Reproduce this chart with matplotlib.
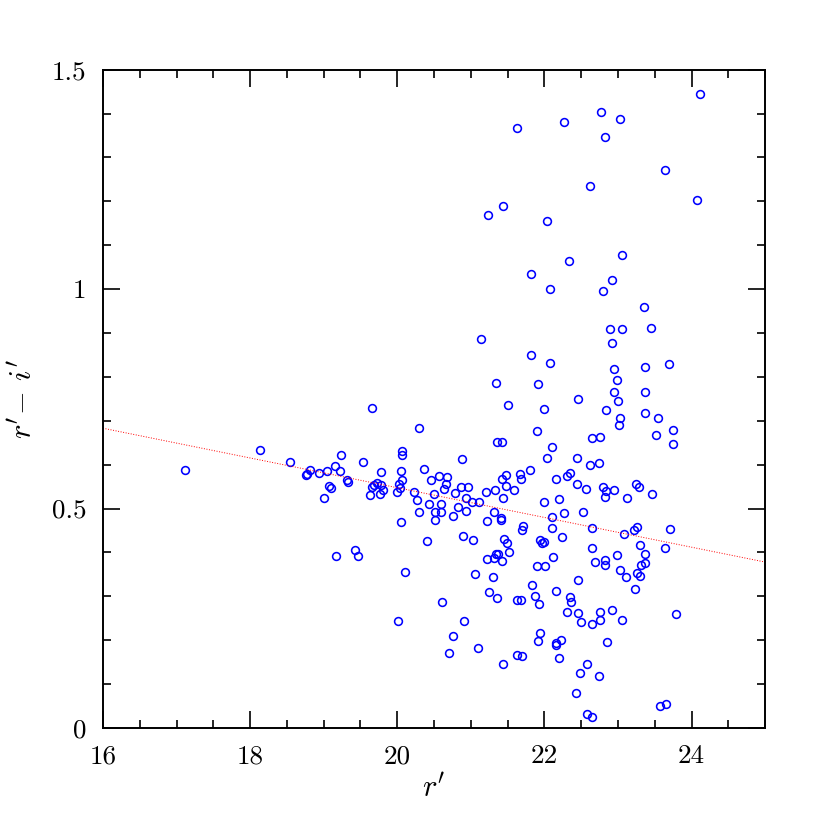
import numpy as np
import matplotlib.pyplot as plt
from matplotlib.ticker import MultipleLocator, FuncFormatter

plt.rcParams['font.family'] = ['cmr10', 'DejaVu Serif']
plt.rcParams['mathtext.fontset'] = 'cm'
plt.rcParams['axes.formatter.use_mathtext'] = True

# Datos: magnitud r' y color r'-i'
r_mag = [
    17.11, 18.14, 18.54, 18.76, 18.77, 18.82, 18.94, 19.04, 19.16, 19.24, 19.22, 19.31, 19.33, 19.07, 19.10, 19.01, 19.17,
    19.65, 20.30, 21.50, 21.99, 21.90, 21.36, 21.42,
    19.54, 19.78, 19.68, 19.72, 19.65, 19.78, 19.81, 19.63, 19.77,
    20.06, 20.06, 20.05, 20.02, 20.06, 20.04, 19.99, 20.05,
    19.43, 19.46, 20.10, 20.01,
    20.36, 20.23, 20.27, 20.30, 20.41, 20.46, 20.56, 20.50, 20.43, 20.51, 20.59, 20.51, 20.59, 20.68, 20.66, 20.63,
    20.79, 20.88, 20.87, 20.96, 20.93, 20.83, 20.93, 20.76, 21.02, 21.11, 20.89, 21.03, 20.61, 21.05, 20.91, 20.76,
    20.70, 21.09,
    21.21, 21.33, 21.48, 21.42, 21.48, 21.58, 21.43, 21.67, 21.68, 21.81, 21.31, 21.22, 21.41, 21.41, 21.71, 21.70,
    21.45, 21.49,
    21.22, 21.31, 21.34, 21.37, 21.42, 21.52, 21.30, 21.24, 21.36, 21.63, 21.68, 21.83, 21.87, 21.93, 21.90, 22.01,
    21.99, 21.94, 21.96, 21.99, 21.94, 21.91, 21.44, 21.62, 21.70,
    22.45, 23.00, 22.84, 23.37,
    23.54, 23.02, 23.01, 23.75, 23.52, 23.75, 22.65, 22.75, 22.10, 22.03, 22.44, 22.62, 22.74, 22.34, 22.31, 22.15,
    22.44, 22.56, 22.80, 22.84, 22.82, 22.95, 23.24, 23.29, 23.12, 23.46, 22.20, 22.27, 22.52, 22.10, 22.10, 22.64,
    22.24, 23.08, 23.22, 23.26, 23.71, 23.64, 23.30, 22.64, 22.11, 22.98, 23.36, 22.82, 22.82, 22.68, 23.02, 23.31,
    23.37, 23.11, 23.26, 23.30, 22.46, 23.23, 22.15, 22.35, 22.36, 22.31, 22.45, 22.50, 22.64, 22.76, 22.75, 22.92,
    23.05, 23.79, 22.16, 22.16, 22.23, 22.20, 22.85, 22.58, 22.48, 22.74, 22.43, 22.58, 22.65, 23.57, 23.65,
    24.11, 22.77, 23.03, 22.27, 21.63, 22.82, 23.64, 22.62, 24.07, 21.43, 21.23, 22.04, 23.06, 22.33, 21.82, 22.92,
    22.08, 22.79, 23.35, 22.89, 23.05, 23.45, 21.14, 22.92, 21.82, 22.08, 23.69, 23.37, 22.94, 22.98, 21.34, 21.91,
    22.94, 23.36,
]
ri_color = [
    0.587, 0.634, 0.607, 0.577, 0.579, 0.587, 0.582, 0.586, 0.597, 0.623, 0.586, 0.565, 0.561, 0.551, 0.546, 0.523, 0.391,
    0.729, 0.684, 0.737, 0.726, 0.677, 0.652, 0.652,
    0.605, 0.583, 0.553, 0.559, 0.549, 0.553, 0.542, 0.531, 0.532,
    0.631, 0.622, 0.586, 0.556, 0.564, 0.546, 0.537, 0.469,
    0.406, 0.391, 0.355, 0.243,
    0.590, 0.537, 0.519, 0.491, 0.426, 0.565, 0.573, 0.533, 0.511, 0.493, 0.493, 0.474, 0.511, 0.571, 0.556, 0.544,
    0.536, 0.613, 0.550, 0.550, 0.523, 0.503, 0.494, 0.483, 0.514, 0.514, 0.437, 0.428, 0.288, 0.351, 0.244, 0.209,
    0.171, 0.181,
    0.537, 0.543, 0.577, 0.567, 0.552, 0.542, 0.525, 0.578, 0.568, 0.588, 0.492, 0.472, 0.478, 0.473, 0.461, 0.452,
    0.431, 0.422,
    0.385, 0.388, 0.397, 0.397, 0.381, 0.400, 0.345, 0.309, 0.295, 0.292, 0.292, 0.325, 0.300, 0.283, 0.370, 0.368,
    0.423, 0.429, 0.422, 0.514, 0.216, 0.199, 0.145, 0.166, 0.163,
    0.749, 0.745, 0.724, 0.718,
    0.706, 0.707, 0.691, 0.678, 0.668, 0.648, 0.661, 0.663, 0.640, 0.614, 0.614, 0.600, 0.604, 0.581, 0.574, 0.567,
    0.556, 0.544, 0.550, 0.539, 0.527, 0.543, 0.556, 0.550, 0.524, 0.534, 0.521, 0.489, 0.492, 0.481, 0.455, 0.456,
    0.434, 0.441, 0.452, 0.457, 0.453, 0.411, 0.416, 0.409, 0.390, 0.393, 0.397, 0.383, 0.372, 0.377, 0.361, 0.371,
    0.375, 0.343, 0.352, 0.346, 0.336, 0.316, 0.313, 0.298, 0.288, 0.264, 0.263, 0.241, 0.237, 0.264, 0.247, 0.268,
    0.245, 0.259, 0.190, 0.194, 0.200, 0.159, 0.196, 0.145, 0.126, 0.118, 0.080, 0.032, 0.025, 0.050, 0.054,
    1.444, 1.403, 1.387, 1.381, 1.368, 1.347, 1.272, 1.234, 1.203, 1.190, 1.170, 1.156, 1.077, 1.064, 1.035, 1.020,
    1.000, 0.995, 0.960, 0.908, 0.909, 0.912, 0.887, 0.877, 0.849, 0.832, 0.829, 0.823, 0.817, 0.792, 0.785, 0.783,
    0.765, 0.766,
]

# Recta de tendencia (ordenada en r'=16 y pendiente)
fit_x0 = 16.0
fit_y0 = 0.683
fit_slope = -0.0339

fig = plt.figure(figsize=(8.3, 8.3), dpi=100)
ax = fig.add_axes([0.124, 0.123, 0.798, 0.793])

ax.plot(r_mag, ri_color, 'o', mfc='none', mec='blue', ms=5.6, mew=1.15, ls='none')

xl = np.array([16, 25])
ax.plot(xl, fit_y0 + fit_slope * (xl - fit_x0), color='red', ls=':', lw=0.7)

ax.set_xlim(16, 25)
ax.set_ylim(0, 1.5)
ax.xaxis.set_major_locator(MultipleLocator(2))
ax.xaxis.set_minor_locator(MultipleLocator(0.5))
ax.yaxis.set_major_locator(MultipleLocator(0.5))
ax.yaxis.set_minor_locator(MultipleLocator(0.1))
ax.yaxis.set_major_formatter(FuncFormatter(lambda v, p: '%g' % v))
ax.xaxis.set_major_formatter(FuncFormatter(lambda v, p: '%g' % v))

ax.tick_params(which='both', direction='in', top=True, right=True, width=1.2, labelsize=19.5, pad=12)
ax.tick_params(which='major', length=12)
ax.tick_params(which='minor', length=6)
for s in ax.spines.values():
    s.set_linewidth(1.4)

ax.set_xlabel(r"$r'$", fontsize=22, labelpad=4)
ax.set_ylabel(r"$r'\!-\,i'$", fontsize=22, labelpad=10)

plt.savefig('out.png', dpi=100)
